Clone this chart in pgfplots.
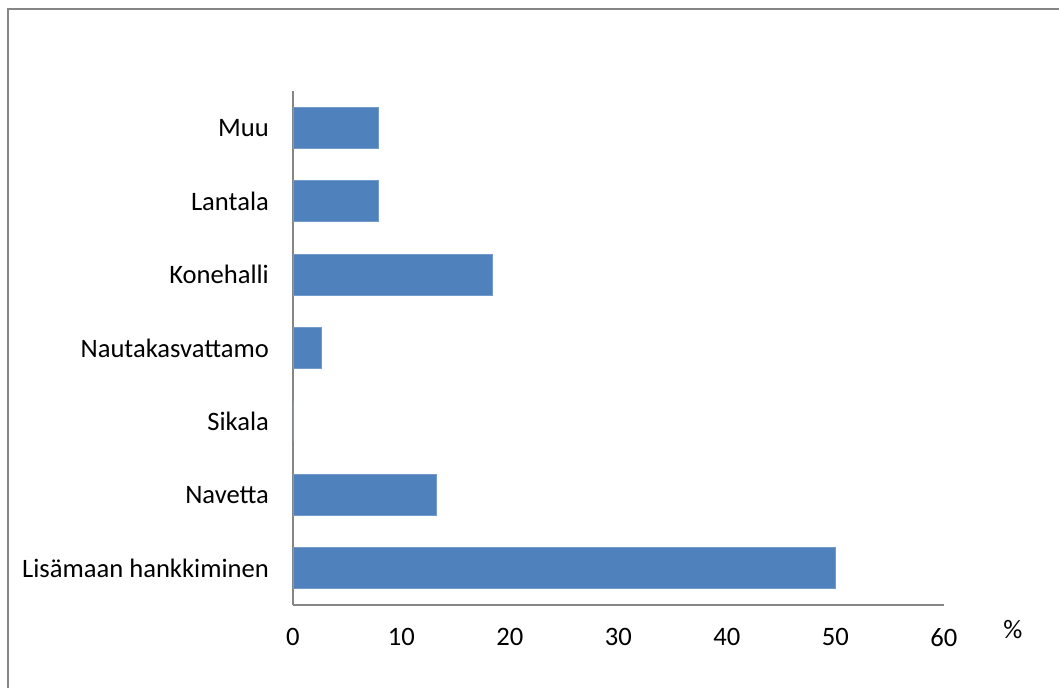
\documentclass[border=0pt]{standalone}
\usepackage{pgfplots}
\pgfplotsset{compat=1.18}
\usepackage{fontspec}
\setmainfont{Carlito}

\definecolor{barblue}{RGB}{79,129,189}
\definecolor{framegray}{RGB}{134,134,134}

\begin{document}
\begin{tikzpicture}[x=0.5pt,y=0.5pt]
\useasboundingbox (0,0) rectangle (1059,688);
% outer chart frame (right and bottom edges fall outside the picture)
\draw[framegray, line width=1pt] (8,-20) -- (8,679) -- (1080,679);
\begin{axis}[
    at={(270,113)}, anchor=south west,
    scale only axis,
    width=325.5pt, height=257pt,
    xbar,
    bar width=20.5pt,
    xmin=0, xmax=60,
    ymin=-0.5, ymax=6.5,
    xtick={0,10,20,30,40,50,60},
    ytick={0,1,2,3,4,5,6},
    yticklabels={Lisämaan hankkiminen,Navetta,Sikala,Nautakasvattamo,Konehalli,Lantala,Muu},
    axis x line*=bottom,
    axis y line*=left,
    axis line style={framegray, line width=0.8pt, -},
    major tick length=0pt,
    tick style={draw=none},
    every tick label/.append style={font=\fontsize{13.3}{15}\selectfont, text=black},
    xticklabel style={yshift=-8pt},
    yticklabel style={xshift=-8.5pt},
    /pgf/number format/assume math mode=true,
    xlabel={\%},
    xlabel style={font=\fontsize{13.3}{15}\selectfont, at={(axis description cs:1.106,-0.047)}, anchor=center},
    clip=false,
]
\addplot[fill=barblue, draw=barblue!80!white] coordinates {
    (50.0,0) (13.2,1) (0,2) (2.6,3) (18.4,4) (7.9,5) (7.9,6)
};
\end{axis}
\end{tikzpicture}
\end{document}
